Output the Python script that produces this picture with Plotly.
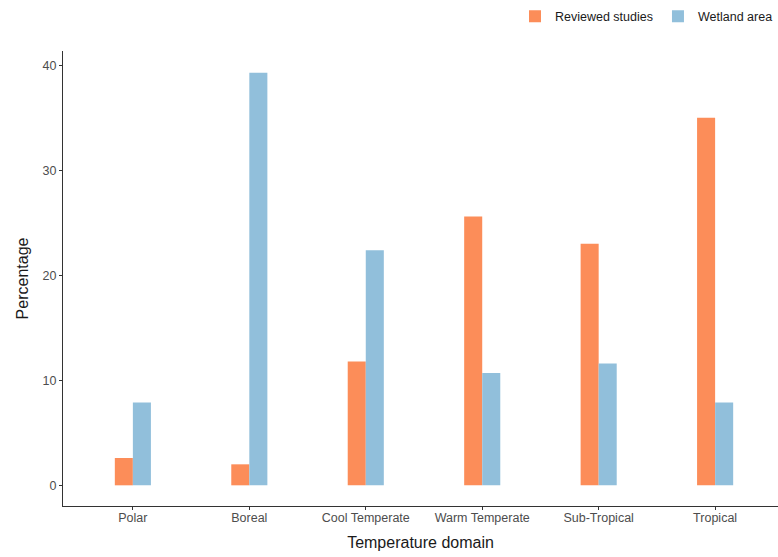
import plotly.graph_objects as go

categories = ["Polar", "Boreal", "Cool Temperate", "Warm Temperate", "Sub-Tropical", "Tropical"]
reviewed_studies = [2.6, 2.0, 11.8, 25.6, 23.0, 35.0]
wetland_area = [7.9, 39.3, 22.4, 10.7, 11.6, 7.9]
y_ticks = [0, 10, 20, 30, 40]

fig = go.Figure()
fig.add_trace(go.Bar(x=categories, y=reviewed_studies, name="Reviewed studies",
                     marker=dict(color="#FC8D59", line=dict(width=0))))
fig.add_trace(go.Bar(x=categories, y=wetland_area, name="Wetland area",
                     marker=dict(color="#91BFDB", line=dict(width=0))))

fig.update_layout(
    width=778, height=557,
    barmode="group", bargap=0.69, bargroupgap=0,
    plot_bgcolor="white", paper_bgcolor="white",
    font=dict(family="Liberation Sans, Arial, sans-serif", color="#4d4d4d", size=12),
    margin=dict(l=63, r=0, t=51, b=51, autoexpand=False),
    legend=dict(orientation="h", xref="container", yref="container",
                x=1.0, xanchor="right", y=0.997, yanchor="top",
                font=dict(size=12.5, color="#1a1a1a"), traceorder="normal",
                itemwidth=30),
    xaxis=dict(range=[-0.6, 5.54], showline=True, linecolor="#333333", linewidth=1.2,
               ticks="outside", ticklen=3, tickcolor="#333333", showgrid=False,
               tickfont=dict(size=12.5, color="#4d4d4d"), ticklabelstandoff=-3,
               title=dict(text="Temperature domain", font=dict(size=16, color="#1a1a1a"), standoff=12)),
    yaxis=dict(range=[-1.97, 41.37], showline=True, linecolor="#333333", linewidth=1.2,
               ticks="outside", ticklen=3, tickcolor="#333333", showgrid=False, zeroline=False,
               tickvals=y_ticks, tickfont=dict(size=12.5, color="#4d4d4d"),
               title=dict(text="Percentage", font=dict(size=16, color="#1a1a1a"), standoff=9)),
)

fig.write_html("out.html", config={"displayModeBar": False},
               post_script="document.body.style.margin='0';")
